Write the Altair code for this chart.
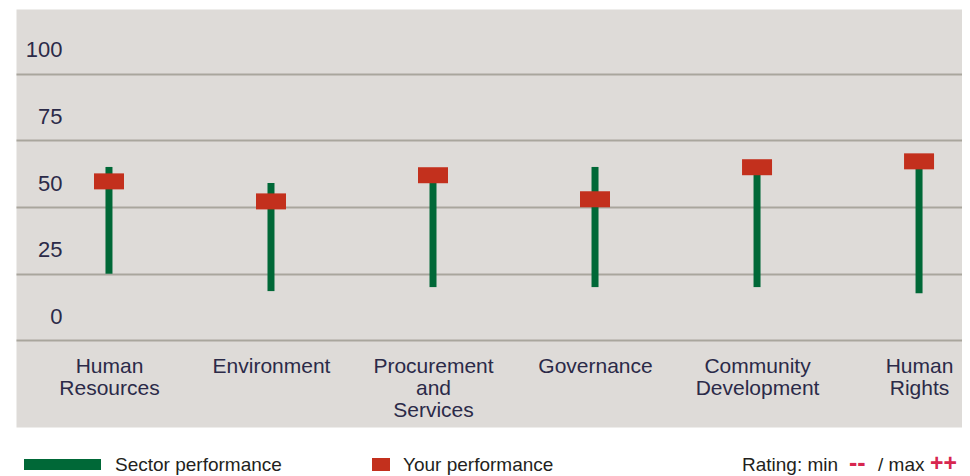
import altair as alt
import pandas as pd

# ---- data ----
categories = ["Human Resources", "Environment", "Procurement and Services",
              "Governance", "Community Development", "Human Rights"]
sector_min = [25, 18.5, 20, 20, 20, 17.7]
sector_max = [65, 59, 61, 65, 64, 66]
your_perf = [59.6, 52.1, 61.9, 52.9, 64.9, 67.1]
y_ticks = [0, 25, 50, 75, 100]
legend_items = ["Sector performance", "Your performance"]
rating_parts = ["Rating: min", "--", "/ max", "++"]

df = pd.DataFrame({"category": categories, "smin": sector_min,
                   "smax": sector_max, "yours": your_perf})

FONT = "Liberation Sans"
TEXT = "#2b2a48"
GREEN = "#006837"
RED = "#c3301d"
PINK = "#d7264f"

x_axis = alt.Axis(orient="bottom", title=None, labelExpr="split(datum.label, ' ')",
                  labelAngle=0, labelPadding=-72, ticks=False, tickSize=0,
                  domain=False, grid=False, labelBaseline="top",
                  labelFont=FONT, labelFontSize=21, labelLineHeight=22,
                  labelColor=TEXT)
y_axis = alt.Axis(values=y_ticks, title=None, grid=True, gridColor="#a9a69d",
                  gridWidth=2, domain=False, ticks=False, tickSize=0,
                  labelPadding=-46, labelAlign="right", labelBaseline="middle",
                  labelOffset=-24, labelFont=FONT, labelFontSize=22,
                  labelColor=TEXT)
x_scale = alt.Scale(type="point", padding=0.4195, align=0.684)
y_scale = alt.Scale(domain=[-32.4, 124.16], nice=False, zero=False)

rules = alt.Chart(df).mark_rule(color=GREEN, strokeWidth=7, strokeCap="butt").encode(
    x=alt.X("category:N", sort=categories, scale=x_scale, axis=x_axis),
    y=alt.Y("smin:Q", scale=y_scale, axis=y_axis),
    y2="smax:Q",
)
marks = alt.Chart(df).mark_tick(color=RED, size=30, thickness=16,
                                orient="horizontal", opacity=1).encode(
    x=alt.X("category:N", sort=categories, scale=x_scale, axis=x_axis),
    y=alt.Y("yours:Q", scale=y_scale, axis=y_axis),
)

leg1 = pd.DataFrame({"label": [legend_items[0]]})
leg2 = pd.DataFrame({"label": [legend_items[1]]})

green_sw = alt.Chart(leg1).mark_rect(color=GREEN).encode(
    x=alt.value(8), x2=alt.value(85), y=alt.value(450), y2=alt.value(461))
red_sw = alt.Chart(leg2).mark_rect(color=RED).encode(
    x=alt.value(356), x2=alt.value(374), y=alt.value(449), y2=alt.value(462))

def txt(label, x, color, size=19, weight="normal"):
    return alt.Chart(pd.DataFrame({"label": [label]})).mark_text(
        align="left", baseline="alphabetic", font=FONT, fontSize=size,
        fontWeight=weight, color=color).encode(
        x=alt.value(x), y=alt.value(462), text="label:N")

layers = [rules, marks, green_sw, red_sw,
          txt(legend_items[0], 99, "#231f20"),
          txt(legend_items[1], 387, "#231f20"),
          txt(rating_parts[0], 726, "#231f20"),
          txt(rating_parts[1], 833, PINK, 25, "bold"),
          txt(rating_parts[2], 862, "#231f20"),
          txt(rating_parts[3], 914, PINK, 23, "bold")]

chart = alt.layer(*layers).properties(
    width=946, height=418,
    autosize=alt.AutoSizeParams(type="none"),
    padding={"left": 8, "top": 1, "right": 0, "bottom": 49},
).configure_view(fill="#dedbd8", stroke="transparent")

chart.save("out.html", embed_options={"renderer": "svg", "actions": False})
